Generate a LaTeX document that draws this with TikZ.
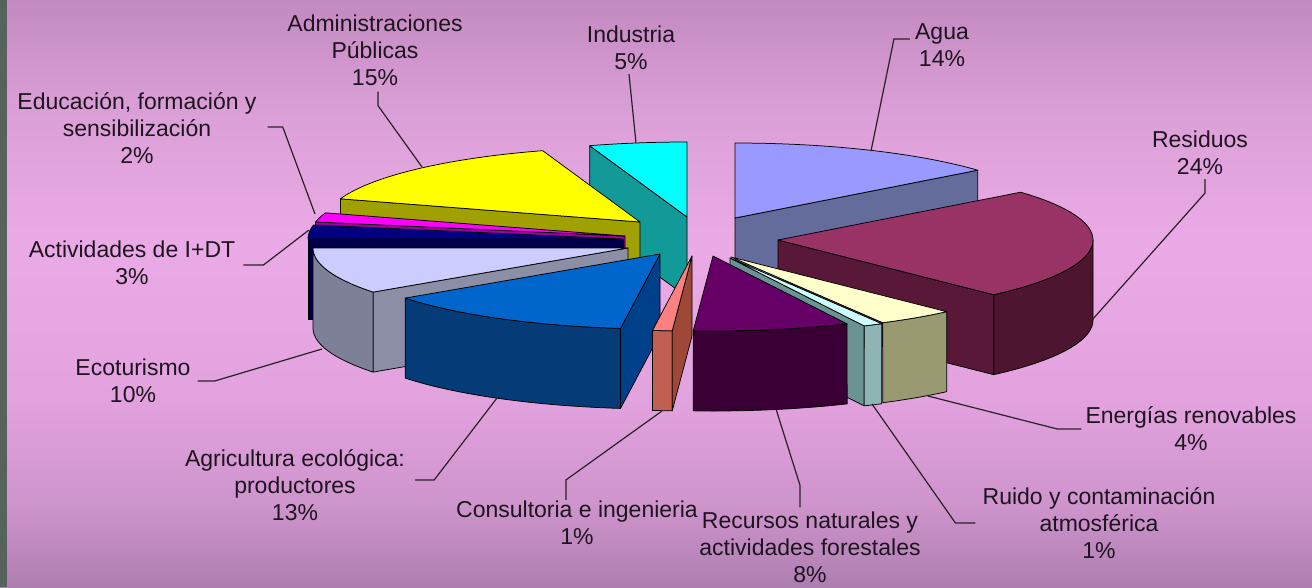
\documentclass[tikz,border=0pt]{standalone}
\usepackage{fontspec}
\setmainfont{Liberation Sans}
\usepackage{tikz}
\usetikzlibrary{positioning, calc}

\definecolor{bgtop}{HTML}{C28AC0}
\definecolor{bghigh}{HTML}{DCA0D8}
\definecolor{bgmid}{HTML}{EAAAE6}
\definecolor{bglow}{HTML}{E2A2DE}
\definecolor{bgfoot}{HTML}{CE94CC}
\definecolor{bgbot}{HTML}{AE7EB0}
\definecolor{marble}{HTML}{56625C}
\definecolor{txt}{HTML}{1E1420}
\definecolor{linecol}{HTML}{2A2028}
% slice colours
\definecolor{indtop}{HTML}{00FFFF}\definecolor{indside}{HTML}{129A98}
\definecolor{aguatop}{HTML}{9999FF}\definecolor{aguaside}{HTML}{646C9C}
\definecolor{admtop}{HTML}{FFFF00}\definecolor{admside}{HTML}{A0A000}
\definecolor{restop}{HTML}{993366}\definecolor{resside}{HTML}{5A1838}\definecolor{resrim}{HTML}{4E1530}
\definecolor{edutop}{HTML}{FF00FF}\definecolor{eduside}{HTML}{A000A0}
\definecolor{idttop}{HTML}{000080}\definecolor{idtside}{HTML}{00004A}
\definecolor{ecotop}{HTML}{CCCCFF}\definecolor{ecoside}{HTML}{8C8EA6}\definecolor{ecorim}{HTML}{7E8098}
\definecolor{enetop}{HTML}{FFFFCC}\definecolor{enerim}{HTML}{9A9A72}
\definecolor{ruitop}{HTML}{CCFFFF}\definecolor{ruiside}{HTML}{6A9494}\definecolor{ruirim}{HTML}{8EB4B4}
\definecolor{agrtop}{HTML}{0066CC}\definecolor{agrside}{HTML}{00408A}\definecolor{agrrim}{HTML}{053C78}
\definecolor{contop}{HTML}{FF8080}\definecolor{conside}{HTML}{A04838}\definecolor{conrim}{HTML}{C06050}
\definecolor{rectop}{HTML}{660066}\definecolor{recrim}{HTML}{3A0036}

% background, light in the middle
\pgfdeclareverticalshading{bgshade}{100bp}{color(0bp)=(bgbot); color(25bp)=(bgbot);
  color(32bp)=(bgfoot); color(41bp)=(bglow); color(54bp)=(bgmid); color(65bp)=(bghigh);
  color(75bp)=(bgtop); color(100bp)=(bgtop)}

% pie ellipse and thickness (pixels)
\newcommand{\pieA}{315}
\newcommand{\pieB}{75}
\newcommand{\pieH}{80}

% top of a slice: cx, cy, from, to, colour
\newcommand{\slicetop}[5]{%
  \filldraw[pieedge, fill=#5] (#1,#2) -- plot[domain=#3:#4, samples=30]
    ({#1+\pieA*sin(\x)}, {#2-\pieB*cos(\x)}) -- cycle;}
% outer face: cx, cy, from, to, colour
\newcommand{\slicerim}[5]{%
  \filldraw[pieedge, fill=#5] plot[domain=#3:#4, samples=30]
    ({#1+\pieA*sin(\x)}, {#2-\pieB*cos(\x)})
    -- plot[domain=#4:#3, samples=30] ({#1+\pieA*sin(\x)}, {#2+\pieH-\pieB*cos(\x)}) -- cycle;}
% cut face: cx, cy, angle, colour
\newcommand{\slicecut}[4]{%
  \filldraw[pieedge, fill=#4] (#1,#2) -- ({#1+\pieA*sin(#3)}, {#2-\pieB*cos(#3)})
    -- ++(0,\pieH) -- (#1,{#2+\pieH}) -- cycle;}

\begin{document}
\begin{tikzpicture}[x=1pt, y=-1pt,
  pieedge/.style={draw=black, line width=0.75pt, line join=round},
  leader/.style={draw=linecol, line width=1.2pt},
  lbl/.style={font=\fontsize{23}{27}\selectfont, align=center, text=txt, inner sep=1pt}]
  \useasboundingbox (0,0) rectangle (1312,587);
  \shade[shading=bgshade] (0,0) rectangle (1312,587);
  \fill[marble] (0,0) rectangle (7,587);

  % slices, back to front
  \slicecut{687}{217}{342}{indside}
  \slicetop{687}{217}{342}{360}{indtop}
  \slicecut{735}{218}{50.4}{aguaside}
  \slicetop{735}{218}{0}{50.4}{aguatop}
  \slicecut{640}{222}{288}{admside}
  \slicetop{640}{222}{288}{342}{admtop}
  \slicerim{778}{240}{90}{136.8}{resrim}
  \slicecut{778}{240}{136.8}{resside}
  \slicetop{778}{240}{50.4}{136.8}{restop}
  \slicecut{625}{236}{280.8}{eduside}
  \slicetop{625}{236}{280.8}{288}{edutop}
  \slicecut{623}{239}{270}{idtside}
  \slicetop{623}{239}{270}{280.8}{idttop}
  \slicerim{628}{248}{234}{270}{ecorim}
  \slicecut{628}{248}{234}{ecoside}
  \slicetop{628}{248}{234}{270}{ecotop}
  \slicerim{731}{257}{136.8}{151.2}{enerim}
  \slicetop{731}{257}{136.8}{151.2}{enetop}
  \slicerim{730}{258}{151.2}{154.8}{ruirim}
  \slicecut{730}{258}{154.8}{ruiside}
  \slicetop{730}{258}{151.2}{154.8}{ruitop}
  \slicerim{660}{254}{187.2}{234}{agrrim}
  \slicecut{660}{254}{187.2}{agrside}
  \slicetop{660}{254}{187.2}{234}{agrtop}
  \slicerim{692}{256}{183.6}{187.2}{conrim}
  \slicecut{692}{256}{183.6}{conside}
  \slicetop{692}{256}{183.6}{187.2}{contop}
  \slicerim{713}{256}{154.8}{183.6}{recrim}
  \slicetop{713}{256}{154.8}{183.6}{rectop}

  % leader ends on the slices
  \coordinate (adm-tip) at (422,167);
  \coordinate (ind-tip) at (636,143);
  \coordinate (agua-tip) at (871,151);
  \coordinate (res-tip) at (1092,320);
  \coordinate (ener-tip) at (928,396);
  \coordinate (rui-tip) at (872,404);
  \coordinate (rec-tip) at (776,409);
  \coordinate (con-tip) at (662,411);
  \coordinate (agr-tip) at (497,398);
  \coordinate (eco-tip) at (322,349);
  \coordinate (idt-tip) at (309,230);
  \coordinate (edu-tip) at (315,214);

  % labels
  \node[lbl] (adm) at (375,50) {Administraciones\\Públicas\\15\%};
  \node[lbl] (ind) at (631,48) {Industria\\5\%};
  \node[lbl] (agua) at (942,45) {Agua\\14\%};
  \node[lbl] (res) at (1200,153) {Residuos\\24\%};
  \node[lbl] (edu) at (137,128) {Educación, formación y\\sensibilización\\2\%};
  \node[lbl] (idt) at (132,263) {Actividades de I+DT\\3\%};
  \node[lbl] (eco) at (133,381) {Ecoturismo\\10\%};
  \node[lbl] (agr) at (295,485) {Agricultura ecológica:\\productores\\13\%};
  \node[lbl] (con) at (577,523) {Consultoria e ingenieria\\1\%};
  \node[lbl] (rec) at (810,547) {Recursos naturales y\\actividades forestales\\8\%};
  \node[lbl] (ener) at (1191,429) {Energías renovables\\4\%};
  \node[lbl] (rui) at (1099,523) {Ruido y contaminación\\atmosférica\\1\%};

  % leaders
  \draw[leader] (adm.south) ++(3,5) -- ++(0,14) -- (adm-tip);
  \draw[leader] (ind.south) ++(-2,3) -- (ind-tip);
  \draw[leader] (agua.west) ++(-4,-6) -- ++(-16,0) -- (agua-tip);
  \draw[leader] (res.south) ++(5,3) -- ++(0,14) -- (res-tip);
  \draw[leader] (edu.east) ++(10,-1) -- ++(15,0) -- (edu-tip);
  \draw[leader] (idt.east) ++(7,2) -- ++(20,0) -- (idt-tip);
  \draw[leader] (eco.east) ++(6,0) -- ++(17,0) -- (eco-tip);
  \draw[leader] (agr.east) ++(9,-5) -- ++(19,0) -- (agr-tip);
  \draw[leader] (con.north) ++(-11,0) -- ++(0,-20) -- (con-tip);
  \draw[leader] (rec.north) ++(-10,-3) -- ++(0,-22) -- (rec-tip);
  \draw[leader] (ener.west) ++(-3,0) -- ++(-24,0) -- (ener-tip);
  \draw[leader] (rui.west) ++(-6,0) -- ++(-20,0) -- (rui-tip);
\end{tikzpicture}
\end{document}
